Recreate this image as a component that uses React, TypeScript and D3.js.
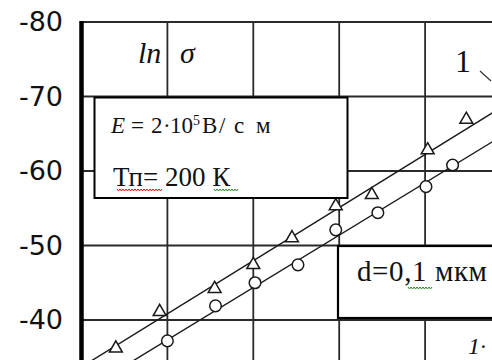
import React from "react";
import * as d3 from "d3";

// ln(sigma) vs 1/T, two samples (triangles / circles)
const triX = [0.4, 0.91, 1.55, 2.0, 2.45, 2.96, 3.38, 4.03, 4.48];
const triY = [-36.2, -41.1, -44.2, -47.4, -51.0, -55.3, -56.8, -62.8, -66.9];
const circX = [1.0, 1.56, 2.02, 2.52, 2.96, 3.45, 4.01, 4.32];
const circY = [-37.2, -41.9, -45.0, -47.4, -52.1, -54.4, -57.9, -60.8];

// straight fits drawn through each set (end points)
const fitTri: [number, number][] = [[0, -33.7], [5, -69.35]];
const fitCirc: [number, number][] = [[0, -30.3], [5, -65.45]];

const yTicks = [-80, -70, -60, -50, -40];
const yGrid = [-80, -70, -60, -50, -40, -30];
const xTicks = [0, 1, 2, 3, 4, 5];

const W = 492;
const H = 360;

const wavy = (x0: number, x1: number, y: number) => {
  let p = `M${x0},${y}`;
  for (let x = x0; x < x1; x += 3) p += ` l1.5,2 l1.5,-2`;
  return p;
};

export default function App() {
  const x = d3.scaleLinear().domain([0, 5]).range([81.5, 511]);
  const y = d3.scaleLinear().domain([-80, -30]).range([22, 394.5]);
  const line = d3
    .line<[number, number]>()
    .x((d) => x(d[0]))
    .y((d) => y(d[1]));
  const tri = d3.symbol(d3.symbolTriangle, 72);
  const grid = "#2a2a2a";
  const serif = "'Liberation Serif', 'Times New Roman', serif";

  return (
    <svg
      width={W}
      height={H}
      style={{ position: "absolute", left: 0, top: 0, background: "#fff" }}
    >
      <rect width={W} height={H} fill="#fff" />
      {/* grid */}
      {yGrid.map((t) => (
        <line key={"h" + t} x1={x(0)} x2={W} y1={y(t)} y2={y(t)} stroke={grid} strokeWidth={1.8} />
      ))}
      {xTicks.slice(1).map((t) => (
        <line key={"v" + t} x1={x(t)} x2={x(t)} y1={y(-80)} y2={H} stroke={grid} strokeWidth={1.8} />
      ))}
      {/* y axis */}
      <line x1={x(0)} x2={x(0)} y1={y(-80) - 1} y2={H} stroke="#000" strokeWidth={4.5} />
      {yTicks.map((t) => (
        <text
          key={"l" + t}
          x={63}
          y={y(t) + 9}
          textAnchor="end"
          fontFamily="'DejaVu Sans', Verdana, sans-serif"
          fontSize={27}
          fill="#111"
        >
          {t}
        </text>
      ))}

      {/* fitted lines */}
      <path d={line(fitTri) || ""} stroke="#1a1a1a" strokeWidth={1.4} fill="none" />
      <path d={line(fitCirc) || ""} stroke="#1a1a1a" strokeWidth={1.4} fill="none" />

      {/* markers */}
      {triX.map((v, i) => (
        <path
          key={"t" + i}
          d={tri() || ""}
          transform={`translate(${x(v)},${y(triY[i])})`}
          fill="#fff"
          stroke="#1a1a1a"
          strokeWidth={1.5}
        />
      ))}
      {circX.map((v, i) => (
        <circle key={"c" + i} cx={x(v)} cy={y(circY[i])} r={5.8} fill="#fff" stroke="#1a1a1a" strokeWidth={1.5} />
      ))}

      {/* ln sigma */}
      <text y={63} fontFamily={serif} fontStyle="italic" fontSize={30} fill="#111">
        <tspan x={138}>ln</tspan>
        <tspan x={180}>σ</tspan>
      </text>

      {/* curve label */}
      <text x={455} y={72} fontFamily={serif} fontSize={32} fill="#111">1</text>
      <line x1={480} y1={71} x2={491} y2={81} stroke="#333" strokeWidth={1.2} />

      {/* conditions box */}
      <rect x={94.5} y={97.5} width={253} height={100.5} fill="#fff" stroke="#000" strokeWidth={2} />
      <text y={133} fontFamily={serif} fontSize={23} fill="#111">
        <tspan x={111} fontStyle="italic">E</tspan>
        <tspan x={131}>=</tspan>
        <tspan x={151}>2</tspan>
        <tspan x={163}>·</tspan>
        <tspan x={170}>10</tspan>
        <tspan x={193} y={125} fontSize={14}>5</tspan>
        <tspan x={202} y={133}>В</tspan>
        <tspan x={219}>/</tspan>
        <tspan x={234}>с</tspan>
        <tspan x={256}>м</tspan>
      </text>
      <text x={113} y={186} fontFamily={serif} fontSize={27} fill="#111">
        Тп= 200 К
      </text>
      <path d={wavy(117, 162, 189)} stroke="#d11" strokeWidth={1} fill="none" />
      <path d={wavy(214, 236, 189)} stroke="#2a8a2a" strokeWidth={1} fill="none" />

      {/* thickness box */}
      <rect x={338} y={246} width={170} height={72} fill="#fff" stroke="#000" strokeWidth={2.2} />
      <text x={357} y={281} fontFamily={serif} fontSize={29} letterSpacing={0.6} fill="#111">
        d=0,1 мкм
      </text>
      <path d={wavy(408, 430, 287)} stroke="#2a8a2a" strokeWidth={1} fill="none" />

      {/* x axis label at the bottom edge */}
      <text x={468} y={354} fontFamily={serif} fontStyle="italic" fontSize={24} fill="#111">
        1·
      </text>
    </svg>
  );
}
